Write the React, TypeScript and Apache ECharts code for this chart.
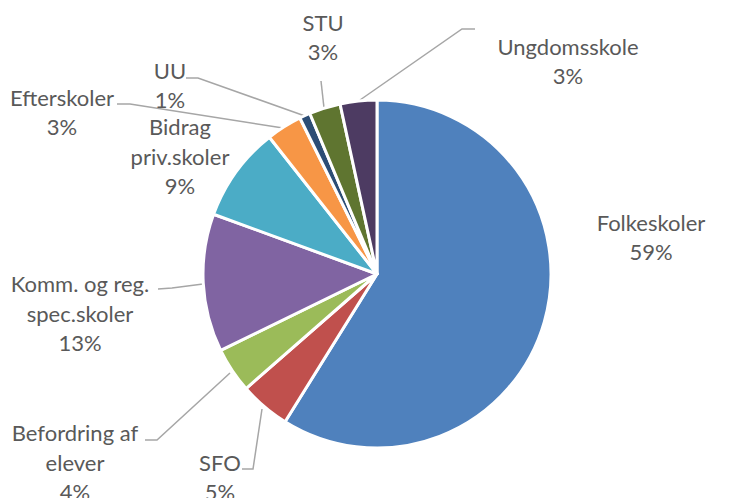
import React, { useEffect, useRef } from "react";
import * as echarts from "echarts";

const categories = [
  "Folkeskoler",
  "SFO",
  "Befordring af\nelever",
  "Komm. og reg.\nspec.skoler",
  "Bidrag\npriv.skoler",
  "Efterskoler",
  "UU",
  "STU",
  "Ungdomsskole",
];
const values = [58.8, 4.7, 4.2, 12.8, 8.8, 3.3, 1.0, 2.9, 3.4];
const colors = [
  "#4F81BD",
  "#C0504D",
  "#9BBB59",
  "#8064A2",
  "#4BACC6",
  "#F79646",
  "#2C4D75",
  "#5F7530",
  "#4D3B62",
];

// label layout: [centerX, centerY] of text block, and leader line points (null = no line)
const labelPos: [number, number][] = [
  [651, 237],
  [220, 477],
  [75, 462],
  [80, 313],
  [180, 156],
  [62, 112],
  [170, 85],
  [323, 37],
  [568, 61],
];
const leaderLines: ([number, number][] | null)[] = [
  null,
  [[242, 469], [253, 469], [262, 409]],
  [[145, 440], [157, 440], [230, 373]],
  [[158, 289], [172, 288], [203, 284]],
  null,
  [[117, 104], [130, 104], [283, 128]],
  [[186, 78], [198, 78], [305, 116]],
  [[321, 81], [321, 81], [324, 108]],
  [[475, 29], [462, 29], [360, 100]],
];

export default function App() {
  const ref = useRef<HTMLDivElement>(null);
  useEffect(() => {
    if (!ref.current) return;
    const chart = echarts.init(ref.current, null, { renderer: "svg" });
    chart.setOption({
      animation: false,
      backgroundColor: "#ffffff",
      series: [
        {
          type: "pie",
          center: [377, 274],
          radius: 174,
          startAngle: 90,
          clockwise: true,
          percentPrecision: 0,
          avoidLabelOverlap: false,
          itemStyle: { borderColor: "#ffffff", borderWidth: 3 },
          label: {
            show: true,
            formatter: "{b}\n{d}%",
            color: "#595959",
            fontSize: 22,
            fontFamily: "Lato, 'Open Sans', sans-serif",
            lineHeight: 29.5,
            align: "center",
          },
          labelLine: {
            show: true,
            lineStyle: { color: "#A6A6A6", width: 1.5 },
          },
          labelLayout: (params: any) => {
            const i = params.dataIndex;
            const p = labelPos[i];
            const res: any = {
              x: p[0],
              y: p[1],
              align: "center",
              verticalAlign: "middle",
            };
            const l = leaderLines[i];
            if (l) res.labelLinePoints = l;
            return res;
          },
          data: categories.map((name, i) => ({
            name,
            value: values[i],
            itemStyle: { color: colors[i] },
            labelLine: { show: leaderLines[i] !== null },
          })),
        },
      ],
    });
    return () => chart.dispose();
  }, []);
  return (
    <div
      ref={ref}
      style={{ position: "absolute", left: 0, top: 0, width: 735, height: 498 }}
    />
  );
}
